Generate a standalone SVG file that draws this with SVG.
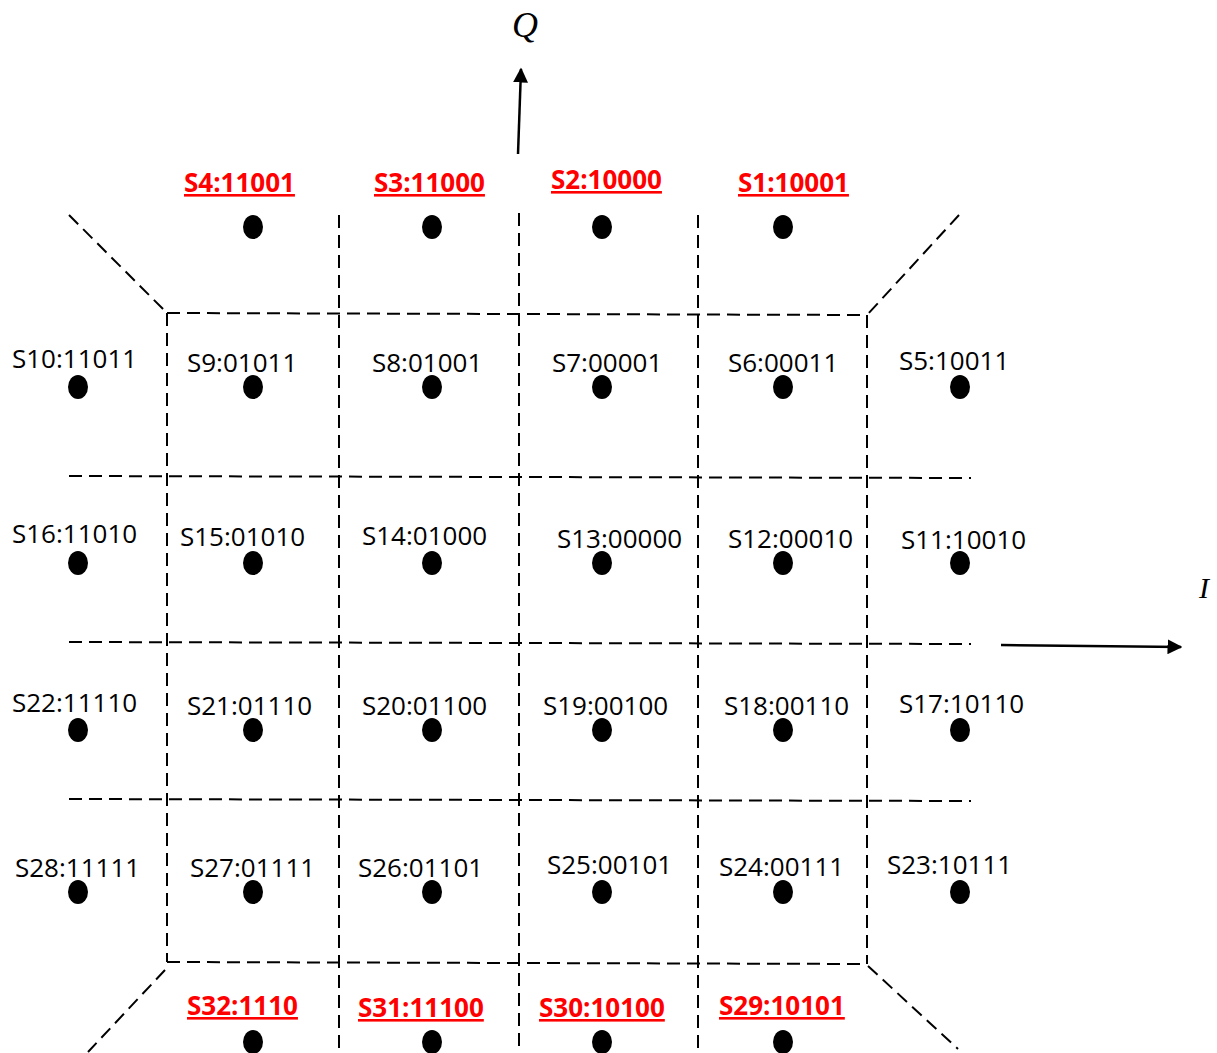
<svg xmlns="http://www.w3.org/2000/svg" width="1217" height="1053" viewBox="0 0 1217 1053">
<defs>
<style>
.d{fill:#000}
.lb{font-family:"Open Sans","Noto Sans",sans-serif;font-size:26px;fill:#000}
.rd{font-family:"Open Sans","Noto Sans",sans-serif;font-size:26px;font-weight:bold;fill:#ff0000;text-decoration:underline}
.g{stroke:#000;stroke-width:2;stroke-dasharray:13 7;fill:none}
.ax{stroke:#000;stroke-width:2.5;fill:none}
.axl{font-family:"Liberation Serif","DejaVu Serif",serif;font-style:italic;fill:#000}
</style>
<marker id="arr" viewBox="0 0 10 10" refX="9" refY="5" markerWidth="6" markerHeight="6" orient="auto" markerUnits="strokeWidth">
<path d="M0,0 L10,5 L0,10 z" fill="#000"/>
</marker>
</defs>
<rect width="1217" height="1053" fill="#fff"/>

<g id="grid">
<line class="g" x1="167" y1="313" x2="867" y2="315"/>
<line class="g" x1="69" y1="476" x2="971" y2="478"/>
<line class="g" x1="69" y1="642" x2="971" y2="644"/>
<line class="g" x1="69" y1="799" x2="971" y2="801"/>
<line class="g" x1="167" y1="962" x2="867" y2="964"/>
<line class="g" x1="167" y1="313" x2="167" y2="962"/>
<line class="g" x1="339" y1="215" x2="339" y2="1053"/>
<line class="g" x1="519" y1="213" x2="519" y2="1053"/>
<line class="g" x1="698" y1="215" x2="698" y2="1053"/>
<line class="g" x1="867" y1="315" x2="867" y2="964"/>
<line class="g" x1="69" y1="215" x2="167" y2="313"/>
<line class="g" x1="959" y1="215" x2="867" y2="315"/>
<line class="g" x1="165" y1="970" x2="88" y2="1052"/>
<line class="g" x1="868" y1="966" x2="958" y2="1049"/>
</g>

<g id="axes">
<line class="ax" x1="518" y1="154" x2="521" y2="69" marker-end="url(#arr)"/>
<line class="ax" x1="1001" y1="645" x2="1181" y2="647" marker-end="url(#arr)"/>
<text class="axl" x="525" y="37" font-size="36" text-anchor="middle">Q</text>
<text class="axl" x="1204" y="598" font-size="30" text-anchor="middle">I</text>
</g>

<g id="S4"><text class="rd" x="184" y="192">S4:11001</text><ellipse class="d" cx="253" cy="227" rx="10" ry="12"/></g>
<g id="S3"><text class="rd" x="374" y="192">S3:11000</text><ellipse class="d" cx="432" cy="227" rx="10" ry="12"/></g>
<g id="S2"><text class="rd" x="551" y="189">S2:10000</text><ellipse class="d" cx="602" cy="227" rx="10" ry="12"/></g>
<g id="S1"><text class="rd" x="738" y="192">S1:10001</text><ellipse class="d" cx="783" cy="227" rx="10" ry="12"/></g>

<g id="S10"><text class="lb" x="12" y="368">S10:11011</text><ellipse class="d" cx="78" cy="387" rx="10" ry="12"/></g>
<g id="S9"><text class="lb" x="187" y="372">S9:01011</text><ellipse class="d" cx="253" cy="387" rx="10" ry="12"/></g>
<g id="S8"><text class="lb" x="372" y="372">S8:01001</text><ellipse class="d" cx="432" cy="387" rx="10" ry="12"/></g>
<g id="S7"><text class="lb" x="552" y="372">S7:00001</text><ellipse class="d" cx="602" cy="387" rx="10" ry="12"/></g>
<g id="S6"><text class="lb" x="728" y="372">S6:00011</text><ellipse class="d" cx="783" cy="387" rx="10" ry="12"/></g>
<g id="S5"><text class="lb" x="899" y="370">S5:10011</text><ellipse class="d" cx="960" cy="387" rx="10" ry="12"/></g>

<g id="S16"><text class="lb" x="12" y="543">S16:11010</text><ellipse class="d" cx="78" cy="563" rx="10" ry="12"/></g>
<g id="S15"><text class="lb" x="180" y="546">S15:01010</text><ellipse class="d" cx="253" cy="563" rx="10" ry="12"/></g>
<g id="S14"><text class="lb" x="362" y="545">S14:01000</text><ellipse class="d" cx="432" cy="563" rx="10" ry="12"/></g>
<g id="S13"><text class="lb" x="557" y="548">S13:00000</text><ellipse class="d" cx="602" cy="563" rx="10" ry="12"/></g>
<g id="S12"><text class="lb" x="728" y="548">S12:00010</text><ellipse class="d" cx="783" cy="563" rx="10" ry="12"/></g>
<g id="S11"><text class="lb" x="901" y="549">S11:10010</text><ellipse class="d" cx="960" cy="563" rx="10" ry="12"/></g>

<g id="S22"><text class="lb" x="12" y="712">S22:11110</text><ellipse class="d" cx="78" cy="730" rx="10" ry="12"/></g>
<g id="S21"><text class="lb" x="187" y="715">S21:01110</text><ellipse class="d" cx="253" cy="730" rx="10" ry="12"/></g>
<g id="S20"><text class="lb" x="362" y="715">S20:01100</text><ellipse class="d" cx="432" cy="730" rx="10" ry="12"/></g>
<g id="S19"><text class="lb" x="543" y="715">S19:00100</text><ellipse class="d" cx="602" cy="730" rx="10" ry="12"/></g>
<g id="S18"><text class="lb" x="724" y="715">S18:00110</text><ellipse class="d" cx="783" cy="730" rx="10" ry="12"/></g>
<g id="S17"><text class="lb" x="899" y="713">S17:10110</text><ellipse class="d" cx="960" cy="730" rx="10" ry="12"/></g>

<g id="S28"><text class="lb" x="15" y="877">S28:11111</text><ellipse class="d" cx="78" cy="892" rx="10" ry="12"/></g>
<g id="S27"><text class="lb" x="190" y="877">S27:01111</text><ellipse class="d" cx="253" cy="892" rx="10" ry="12"/></g>
<g id="S26"><text class="lb" x="358" y="877">S26:01101</text><ellipse class="d" cx="432" cy="892" rx="10" ry="12"/></g>
<g id="S25"><text class="lb" x="547" y="874">S25:00101</text><ellipse class="d" cx="602" cy="892" rx="10" ry="12"/></g>
<g id="S24"><text class="lb" x="719" y="876">S24:00111</text><ellipse class="d" cx="783" cy="892" rx="10" ry="12"/></g>
<g id="S23"><text class="lb" x="887" y="874">S23:10111</text><ellipse class="d" cx="960" cy="892" rx="10" ry="12"/></g>

<g id="S32"><text class="rd" x="187" y="1015">S32:1110</text><ellipse class="d" cx="253" cy="1042" rx="10" ry="12"/></g>
<g id="S31"><text class="rd" x="358" y="1017">S31:11100</text><ellipse class="d" cx="432" cy="1042" rx="10" ry="12"/></g>
<g id="S30"><text class="rd" x="539" y="1017">S30:10100</text><ellipse class="d" cx="602" cy="1042" rx="10" ry="12"/></g>
<g id="S29"><text class="rd" x="719" y="1015">S29:10101</text><ellipse class="d" cx="783" cy="1042" rx="10" ry="12"/></g>
</svg>
